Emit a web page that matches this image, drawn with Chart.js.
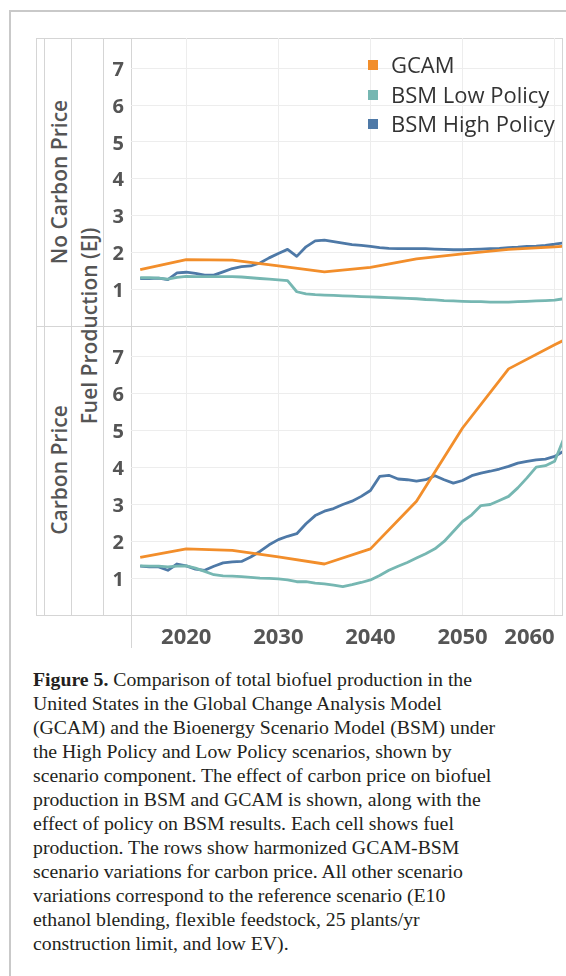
<!DOCTYPE html>
<html>
<head>
<meta charset="utf-8">
<title>Biofuel production: GCAM vs BSM</title>
<script src="https://cdn.jsdelivr.net/npm/chart.js@4.4.1/dist/chart.umd.min.js"></script>
<style>
  html, body { margin: 0; padding: 0; background: #fff; }
  body { width: 566px; height: 976px; overflow: hidden; position: relative; font-family: "Open Sans", sans-serif; }
  .frame { position: absolute; left: 9px; top: 10px; width: 900px; height: 1200px;
           border-left: 2px solid #c9c9c9; border-top: 2px solid #c9c9c9; }
  .hl { position: absolute; height: 1px; background: #d5d5d5; }
  .vl { position: absolute; width: 1px; background: #d5d5d5; }
  canvas { position: absolute; }
  .rot { position: absolute; transform: translate(-50%, -50%) rotate(-90deg); white-space: nowrap;
         color: #555; font-weight: 600; line-height: 1; }
  #legend { position: absolute; left: 368px; top: 50px; font-size: 22px; color: #333; }
  #legend .item { position: relative; height: 29.5px; line-height: 29.5px; padding-left: 23px; white-space: nowrap; }
  #legend .sw { position: absolute; left: 0; top: 10px; width: 10px; height: 10px; }
  #caption { position: absolute; left: 33px; top: 667px; font-family: "Liberation Serif", "Times New Roman", serif;
             font-size: 19.75px; line-height: 24px; color: #231f20; white-space: pre; }
</style>
</head>
<body>
<div class="frame"></div>

<!-- table frame around the two panels -->
<div class="hl" style="left:36px; top:38px; width:527px;"></div>
<div class="hl" style="left:36px; top:326px; width:527px;"></div>
<div class="hl" style="left:36px; top:615px; width:527px;"></div>
<div class="vl" style="left:36px; top:38px; height:578px;"></div>
<div class="vl" style="left:44px; top:38px; height:578px;"></div>
<div class="vl" style="left:71px; top:38px; height:578px;"></div>
<div class="vl" style="left:103px; top:38px; height:578px;"></div>
<div class="vl" style="left:131px; top:38px; height:610px;"></div>
<div class="vl" style="left:562px; top:38px; height:578px;"></div>

<div class="rot" style="left:59px; top:182px; font-size:21px;">No Carbon Price</div>
<div class="rot" style="left:59px; top:470px; font-size:21px;">Carbon Price</div>
<div class="rot" style="left:89px; top:326px; font-size:21px;">Fuel Production (EJ)</div>

<canvas id="topChart" width="459" height="288" style="left:103px; top:38px;"></canvas>
<canvas id="bottomChart" width="459" height="334" style="left:103px; top:326px;"></canvas>

<div id="legend"></div>

<div id="caption"><b>Figure 5.</b> Comparison of total biofuel production in the
United States in the Global Change Analysis Model
(GCAM) and the Bioenergy Scenario Model (BSM) under
the High Policy and Low Policy scenarios, shown by
scenario component. The effect of carbon price on biofuel
production in BSM and GCAM is shown, along with the
effect of policy on BSM results. Each cell shows fuel
production. The rows show harmonized GCAM-BSM
scenario variations for carbon price. All other scenario
variations correspond to the reference scenario (E10
ethanol blending, flexible feedstock, 25 plants/yr
construction limit, and low EV).</div>

<script>
// ---- data (EJ) ----
const seriesNames = ["GCAM", "BSM Low Policy", "BSM High Policy"];
const seriesColors = ["#F28E2B", "#76B7B2", "#4E79A7"];

const xTicks = [2020, 2030, 2040, 2050, 2060];
const yTicks = [1, 2, 3, 4, 5, 6, 7];

// GCAM reports in 5-year steps
const gcamYears = [2015, 2020, 2025, 2030, 2035, 2040, 2045, 2050, 2055, 2060, 2065];
const gcamNoCarbon = [1.53, 1.80, 1.79, 1.63, 1.47, 1.59, 1.82, 1.96, 2.08, 2.15, 2.21];
const gcamCarbon   = [1.56, 1.79, 1.75, 1.57, 1.38, 1.79, 3.08, 5.06, 6.66, 7.31, 7.95];

// BSM reports annually
const bsmYears = [2015, 2016, 2017, 2018, 2019, 2020, 2021, 2022, 2023, 2024,
                  2025, 2026, 2027, 2028, 2029, 2030, 2031, 2032, 2033, 2034,
                  2035, 2036, 2037, 2038, 2039, 2040, 2041, 2042, 2043, 2044,
                  2045, 2046, 2047, 2048, 2049, 2050, 2051, 2052, 2053, 2054,
                  2055, 2056, 2057, 2058, 2059, 2060, 2061];

const bsmLowNoCarbon = [1.31, 1.31, 1.30, 1.27, 1.32, 1.35, 1.34, 1.34, 1.34, 1.34,
                        1.34, 1.33, 1.31, 1.29, 1.27, 1.25, 1.23, 0.93, 0.87, 0.85,
                        0.84, 0.83, 0.82, 0.81, 0.80, 0.79, 0.78, 0.77, 0.76, 0.75,
                        0.74, 0.72, 0.71, 0.69, 0.68, 0.67, 0.66, 0.66, 0.65, 0.65,
                        0.65, 0.66, 0.67, 0.68, 0.69, 0.70, 0.74];
const bsmHighNoCarbon = [1.29, 1.29, 1.30, 1.26, 1.44, 1.46, 1.43, 1.38, 1.38, 1.47,
                         1.56, 1.61, 1.63, 1.71, 1.85, 1.97, 2.08, 1.89, 2.15, 2.31,
                         2.33, 2.29, 2.25, 2.21, 2.19, 2.16, 2.13, 2.11, 2.10, 2.10,
                         2.10, 2.10, 2.09, 2.08, 2.07, 2.07, 2.08, 2.09, 2.10, 2.11,
                         2.13, 2.14, 2.16, 2.17, 2.19, 2.22, 2.26];
const bsmLowCarbon = [1.33, 1.32, 1.32, 1.30, 1.32, 1.33, 1.27, 1.18, 1.09, 1.06,
                      1.05, 1.04, 1.02, 1.00, 0.99, 0.98, 0.95, 0.90, 0.90, 0.86,
                      0.84, 0.81, 0.77, 0.82, 0.88, 0.95, 1.07, 1.21, 1.32, 1.42,
                      1.54, 1.66, 1.79, 1.99, 2.26, 2.53, 2.71, 2.96, 2.99, 3.10,
                      3.21, 3.44, 3.71, 4.00, 4.04, 4.16, 4.78];
const bsmHighCarbon = [1.32, 1.30, 1.30, 1.21, 1.38, 1.33, 1.24, 1.21, 1.32, 1.41,
                       1.44, 1.45, 1.57, 1.72, 1.90, 2.04, 2.13, 2.20, 2.47, 2.69,
                       2.81, 2.88, 2.99, 3.08, 3.21, 3.37, 3.75, 3.78, 3.68, 3.66,
                       3.62, 3.66, 3.77, 3.66, 3.57, 3.64, 3.77, 3.84, 3.89, 3.95,
                       4.02, 4.11, 4.16, 4.20, 4.22, 4.29, 4.44];

// ---- drawing ----
const X_MIN = 2014, X_MAX = 2060.8, Y_MIN = 0, Y_MAX = 7.82;
const tickColor = "#555";
const gridColor = "#ededed";

function points(xs, ys) { return xs.map((x, i) => ({ x: x, y: ys[i] })); }

function lineSet(label, color, xs, ys) {
  return {
    label: label, data: points(xs, ys), borderColor: color, backgroundColor: color,
    borderWidth: 2.8, pointRadius: 0, pointHoverRadius: 0, tension: 0, clip: 0,
    borderJoinStyle: "round", borderCapStyle: "butt"
  };
}

// year labels under the bottom panel; the last one is kept inside the pane
const yearLabels = {
  id: "yearLabels",
  afterDraw(chart) {
    const s = chart.scales.x, area = chart.chartArea, ctx = chart.ctx;
    ctx.save();
    ctx.font = 'bold 22px "Open Sans"';
    ctx.fillStyle = tickColor;
    ctx.textBaseline = "middle";
    xTicks.forEach(v => {
      const px = s.getPixelForValue(v);
      const w = ctx.measureText(String(v)).width;
      ctx.textAlign = (px + w / 2 > area.right) ? "right" : "center";
      ctx.fillText(String(v), px, area.bottom + 23);
    });
    ctx.restore();
  }
};

function makeChart(id, gcamVals, lowVals, highVals, axisHeight, plugins) {
  return new Chart(document.getElementById(id), {
    type: "line",
    data: {
      datasets: [
        lineSet(seriesNames[0], seriesColors[0], gcamYears, gcamVals),
        lineSet(seriesNames[1], seriesColors[1], bsmYears, lowVals),
        lineSet(seriesNames[2], seriesColors[2], bsmYears, highVals)
      ]
    },
    options: {
      responsive: false, animation: false, devicePixelRatio: 1,
      layout: { padding: 0 },
      plugins: { legend: { display: false }, tooltip: { enabled: false } },
      scales: {
        x: {
          type: "linear", min: X_MIN, max: X_MAX,
          afterBuildTicks: s => { s.ticks = xTicks.map(v => ({ value: v })); },
          afterFit: s => {
            s.height = axisHeight;
            s.paddingLeft = 0; s.paddingRight = 0;
          },
          ticks: { display: false },
          grid: { color: gridColor, drawTicks: false },
          border: { display: false }
        },
        y: {
          type: "linear", min: Y_MIN, max: Y_MAX,
          afterBuildTicks: s => { s.ticks = yTicks.map(v => ({ value: v })); },
          afterFit: s => {
            s.width = 28;
            s.paddingTop = 0; s.paddingBottom = 0;
          },
          ticks: { color: tickColor, padding: 7, labelOffset: 2,
                   font: { family: "Open Sans", size: 20, weight: "bold" } },
          grid: { color: gridColor, drawTicks: false },
          border: { display: false }
        }
      }
    },
    plugins: plugins
  });
}

makeChart("topChart", gcamNoCarbon, bsmLowNoCarbon, bsmHighNoCarbon, 0, []);
makeChart("bottomChart", gcamCarbon, bsmLowCarbon, bsmHighCarbon, 45, [yearLabels]);

// legend built from the series names and colours
const legend = document.getElementById("legend");
seriesNames.forEach((name, i) => {
  const item = document.createElement("div");
  item.className = "item";
  const sw = document.createElement("span");
  sw.className = "sw";
  sw.style.background = seriesColors[i];
  item.appendChild(sw);
  item.appendChild(document.createTextNode(name));
  legend.appendChild(item);
});
</script>
</body>
</html>
